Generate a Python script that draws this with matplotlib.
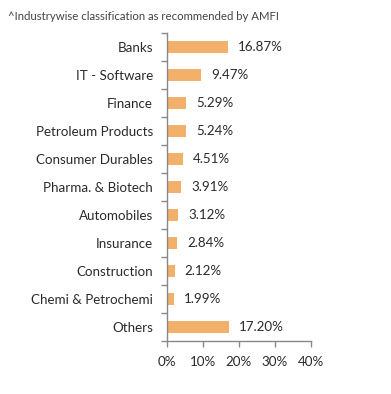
import matplotlib.pyplot as plt
from matplotlib.ticker import FixedLocator

plt.rcParams['font.family'] = ['Lato', 'DejaVu Sans']

sectors = ['Banks', 'IT - Software', 'Finance', 'Petroleum Products', 'Consumer Durables',
           'Pharma. & Biotech', 'Automobiles', 'Insurance', 'Construction',
           'Chemi & Petrochemi', 'Others']
weights = [16.87, 9.47, 5.29, 5.24, 4.51, 3.91, 3.12, 2.84, 2.12, 1.99, 17.20]
xticks = [0, 10, 20, 30, 40]

bar_color = '#f2b06b'
axis_color = '#888888'
text_color = '#2a2a2a'

fig = plt.figure(figsize=(3.91, 3.94), dpi=100)
ax = fig.add_axes([0.427, 0.1345, 0.368, 0.7815])

pos = list(range(len(sectors)))
ax.barh(pos, weights, height=0.42, color=bar_color)
for p, w in zip(pos, weights):
    ax.text(w + 2.8, p, f'{w:.2f}%', va='center', ha='left', fontsize=9.6, color=text_color)

ax.set_ylim(len(sectors) - 0.5, -0.5)
ax.set_xlim(0, 40)
ax.set_yticks(pos)
ax.set_yticklabels(sectors, fontsize=9.6, color=text_color)
ax.tick_params(axis='y', which='major', length=0, pad=10)
ax.yaxis.set_minor_locator(FixedLocator([p - 0.5 for p in pos] + [len(sectors) - 0.5]))
ax.tick_params(axis='y', which='minor', length=4, color=axis_color, width=1)

ax.set_xticks(xticks)
ax.set_xticklabels([f'{t}%' for t in xticks], fontsize=9.6, color=text_color)
ax.tick_params(axis='x', length=4, color=axis_color, width=1, pad=7)

for s in ['top', 'right']:
    ax.spines[s].set_visible(False)
for s in ['left', 'bottom']:
    ax.spines[s].set_color(axis_color)
    ax.spines[s].set_linewidth(1)

fig.text(0.02, 0.957, '^Industrywise classification as recommended by AMFI',
         fontsize=8.2, color='#444444', va='center', ha='left')

fig.savefig('out.png', dpi=100)
